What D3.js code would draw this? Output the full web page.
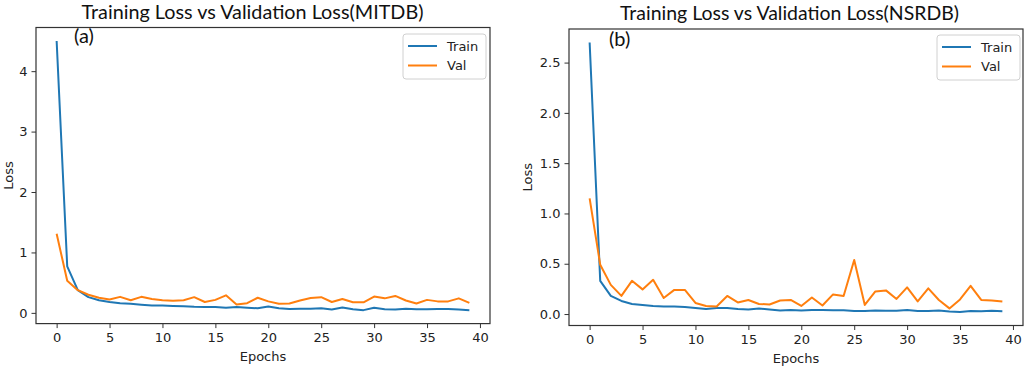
<!DOCTYPE html>
<html><head><meta charset="utf-8">
<script src="https://cdn.jsdelivr.net/npm/d3@7"></script>
<style>
body{margin:0;background:#fff;}
svg{display:block;}
.tick text{font-family:"DejaVu Sans",sans-serif;font-size:13px;fill:#222;}
</style></head>
<body><svg id="c" width="1029" height="369"></svg>
<script>
const epochs = d3.range(40);
const mitdbTrain = [4.5,0.77,0.375,0.26,0.21,0.18,0.16,0.15,0.135,0.12,0.12,0.115,0.11,0.1,0.095,0.095,0.085,0.095,0.085,0.075,0.105,0.075,0.065,0.07,0.07,0.075,0.055,0.09,0.06,0.045,0.085,0.06,0.055,0.07,0.06,0.06,0.065,0.065,0.055,0.045];
const mitdbVal = [1.31,0.53,0.375,0.3,0.25,0.22,0.265,0.21,0.265,0.23,0.21,0.2,0.21,0.26,0.18,0.215,0.29,0.14,0.16,0.25,0.19,0.15,0.155,0.205,0.245,0.26,0.18,0.23,0.175,0.175,0.27,0.24,0.28,0.205,0.155,0.215,0.19,0.19,0.24,0.165];
const nsrdbTrain = [2.7,0.33,0.18,0.13,0.1,0.09,0.08,0.075,0.075,0.07,0.06,0.05,0.06,0.06,0.05,0.045,0.055,0.045,0.035,0.04,0.035,0.04,0.04,0.037,0.037,0.03,0.03,0.035,0.033,0.033,0.04,0.03,0.03,0.035,0.025,0.02,0.03,0.028,0.032,0.028];
const nsrdbVal = [1.15,0.49,0.29,0.18,0.33,0.245,0.34,0.16,0.24,0.24,0.11,0.08,0.075,0.18,0.115,0.14,0.1,0.095,0.135,0.14,0.08,0.165,0.085,0.195,0.18,0.537,0.09,0.225,0.235,0.15,0.265,0.125,0.255,0.14,0.056,0.145,0.28,0.14,0.135,0.125];
const xTicks = [0,5,10,15,20,25,30,35,40];
const mitdbYTicks = [0,1,2,3,4];
const nsrdbYTicks = [0,0.5,1.0,1.5,2.0,2.5];
const seriesNames = ["Train","Val"];
const colors = ["#1f77b4","#ff7f0e"];

const svg = d3.select("#c");

function panel(o){
  const g = svg.append("g");
  const allVals = o.train.concat(o.val);
  const mn = d3.min(allVals), mx = d3.max(allVals), pad=(mx-mn)*0.05;
  const x = d3.scaleLinear().domain([-1.95,40.95]).range([o.x0,o.x1]);
  const y = d3.scaleLinear().domain([mn-pad,mx+pad]).range([o.y1,o.y0]);
  const xa = g.append("g").attr("transform",`translate(0,${o.y1})`)
    .call(d3.axisBottom(x).tickValues(xTicks).tickSize(4.5).tickPadding(5).tickSizeOuter(0));
  xa.select(".domain").remove();
  xa.selectAll(".tick line").attr("stroke","#333");
  const ya = g.append("g").attr("transform",`translate(${o.x0},0)`)
    .call(d3.axisLeft(y).tickValues(o.yTicks).tickFormat(o.fmt).tickSize(4.5).tickPadding(4).tickSizeOuter(0));
  ya.select(".domain").remove();
  ya.selectAll(".tick line").attr("stroke","#333");
  const line = d3.line().x((d,i)=>x(epochs[i])).y(d=>y(d));
  [o.train,o.val].forEach((s,k)=>{
    g.append("path").datum(s).attr("d",line).attr("fill","none")
      .attr("stroke",colors[k]).attr("stroke-width",2).attr("stroke-linejoin","round");
  });
  g.append("rect").attr("x",o.x0).attr("y",o.y0).attr("width",o.x1-o.x0).attr("height",o.y1-o.y0)
    .attr("fill","none").attr("stroke","#333").attr("stroke-width",1.2);
  g.append("text").attr("x",o.tx).attr("y",o.ty).attr("text-anchor","middle")
    .attr("font-family","Lato, 'Open Sans', sans-serif").attr("font-size",19)
    .attr("textLength",o.tw).attr("lengthAdjust","spacingAndGlyphs").attr("fill","#111").text(o.title);
  g.append("text").attr("x",o.lx).attr("y",o.ly).attr("font-family","Lato, sans-serif")
    .attr("font-size",20).attr("fill","#111").text(o.letter);
  g.append("text").attr("x",(o.x0+o.x1)/2).attr("y",o.y1+37).attr("text-anchor","middle")
    .attr("font-family","DejaVu Sans").attr("font-size",13).attr("fill","#222").text("Epochs");
  g.append("text").attr("transform",`translate(${o.ylx},${(o.y0+o.y1)/2}) rotate(-90)`)
    .attr("text-anchor","middle").attr("font-family","DejaVu Sans").attr("font-size",13)
    .attr("fill","#222").text("Loss");
  const lg = g.append("g").attr("transform",`translate(${o.legX},${o.legY})`);
  lg.append("rect").attr("width",83).attr("height",45).attr("rx",3)
    .attr("fill","#fff").attr("fill-opacity",0.8).attr("stroke","#d0d0d0");
  seriesNames.forEach((n,k)=>{
    const yy = 12 + k*19.5;
    lg.append("line").attr("x1",5).attr("x2",34).attr("y1",yy).attr("y2",yy)
      .attr("stroke",colors[k]).attr("stroke-width",2);
    lg.append("text").attr("x",44).attr("y",yy+4.5).attr("font-family","DejaVu Sans")
      .attr("font-size",13).attr("fill","#222").text(n);
  });
}

panel({x0:36,x1:490,y0:27.5,y1:323.6,train:mitdbTrain,val:mitdbVal,yTicks:mitdbYTicks,fmt:d3.format("d"),
  title:"Training Loss vs Validation Loss(MITDB)",tx:252.5,ty:18.5,tw:342,letter:"(a)",lx:74,ly:43,
  ylx:13,legX:403,legY:34});
panel({x0:569,x1:1023,y0:29,y1:325.5,train:nsrdbTrain,val:nsrdbVal,yTicks:nsrdbYTicks,fmt:d3.format(".1f"),
  title:"Training Loss vs Validation Loss(NSRDB)",tx:789.5,ty:19.5,tw:339,letter:"(b)",lx:609,ly:46,
  ylx:532,legX:937,legY:35});
</script></body></html>
